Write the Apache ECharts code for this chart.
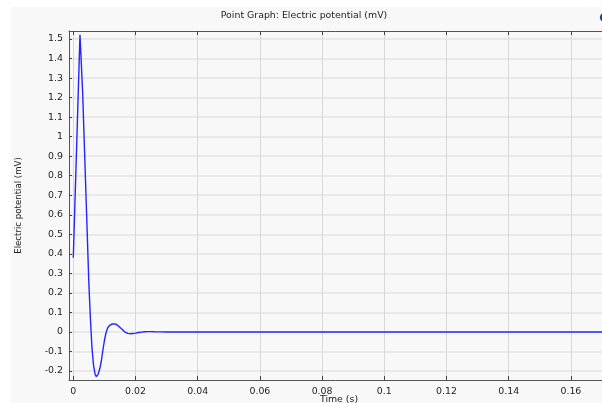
<!DOCTYPE html>
<html>
<head>
<meta charset="utf-8">
<script src="https://cdn.jsdelivr.net/npm/echarts@6/dist/echarts.min.js"></script>
<style>
html,body{margin:0;padding:0;background:#ffffff;}
#chart{width:602px;height:403px;}
</style>
</head>
<body>
<div id="chart"></div>
<script>
// ---- data (time in ms, potential in mV) ----
var timeMs = [0, 1, 2.15, 3, 4, 5, 5.5, 6, 6.5, 7, 7.4, 8, 8.5, 9, 9.5, 10, 10.5, 11, 11.5, 12, 12.5, 13,
  13.5, 14, 14.5, 15, 15.5, 16, 16.5, 17, 17.5, 18, 18.5, 19, 20, 21, 22, 23, 24, 25, 26, 28, 30,
  40, 60, 80, 100, 120, 140, 160, 180, 200];
var potential = [0.38, 0.91, 1.522, 1.23, 0.74, 0.25, 0.07, -0.08, -0.17, -0.215, -0.229, -0.216, -0.19, -0.15, -0.095, -0.045, -0.005, 0.018, 0.031, 0.038, 0.041, 0.042,
  0.041, 0.037, 0.031, 0.024, 0.016, 0.008, 0.001, -0.004, -0.007, -0.009, -0.0095, -0.009, -0.006, -0.003, -0.001, 0.001, 0.0015, 0.0015, 0.001, 0.0005, 0,
  0, 0, 0, 0, 0, 0, 0, 0, 0];
var xTicks = [0, 0.02, 0.04, 0.06, 0.08, 0.1, 0.12, 0.14, 0.16, 0.18];
var yTicks = [-0.2, -0.1, 0, 0.1, 0.2, 0.3, 0.4, 0.5, 0.6, 0.7, 0.8, 0.9, 1, 1.1, 1.2, 1.3, 1.4, 1.5];
var titleText = 'Point Graph: Electric potential (mV)';
var xName = 'Time (s)';
var yName = 'Electric potential (mV)';

var seriesData = timeMs.map(function (t, i) { return [t / 1000, potential[i]]; });
var FONT = 'DejaVu Sans';
var fmt = function (v) { return String(parseFloat(Number(v).toFixed(4))); };

var chart = echarts.init(document.getElementById('chart'), null, {renderer: 'canvas'});
chart.setOption({
  animation: false,
  backgroundColor: '#ffffff',
  textStyle: {fontFamily: FONT},
  graphic: [
    {type: 'rect', z: -10, silent: true, shape: {x: 11, y: 7, width: 600, height: 400}, style: {fill: '#f8f8f8'}},
    {type: 'text', x: 304, y: 11, style: {text: titleText, font: '9.4px "DejaVu Sans"', fill: '#222', align: 'center'}},
    {type: 'circle', shape: {cx: 604.5, cy: 17.5, r: 4.6}, style: {fill: '#1d3f94'}}
  ],
  grid: {left: 69, top: 31, right: -7, bottom: 23, containLabel: false, outerBoundsMode: 'none', show: false},
  xAxis: [{
    type: 'value', position: 'bottom',
    min: -0.00138, max: 0.17225,
    axisLine: {show: true, onZero: false, lineStyle: {color: '#555', width: 1}},
    axisTick: {show: true, inside: true, length: 4, customValues: xTicks, lineStyle: {color: '#444'}},
    axisLabel: {customValues: xTicks, formatter: fmt, color: '#222', fontSize: 9.4, fontFamily: FONT, margin: 7},
    splitLine: {show: true, lineStyle: {color: '#d8d8d8', width: 1}},
    name: xName, nameLocation: 'middle', nameGap: 15, nameMoveOverlap: false,
    nameTextStyle: {color: '#222', fontSize: 9.4, fontFamily: FONT}
  }, {
    type: 'value', position: 'top',
    min: -0.00138, max: 0.17225,
    axisLine: {show: true, onZero: false, lineStyle: {color: '#555', width: 1}},
    axisTick: {show: true, inside: true, length: 4, customValues: xTicks, lineStyle: {color: '#444'}},
    axisLabel: {show: false},
    splitLine: {show: false}
  }],
  yAxis: [{
    type: 'value', position: 'left',
    min: -0.246, max: 1.541,
    axisLine: {show: true, onZero: false, lineStyle: {color: '#555', width: 1}},
    axisTick: {show: true, inside: true, length: 3, customValues: yTicks, lineStyle: {color: '#444'}},
    axisLabel: {customValues: yTicks, formatter: fmt, color: '#222', fontSize: 9.4, fontFamily: FONT, margin: 6},
    splitLine: {show: true, lineStyle: {color: '#e4e4e4', width: 1.5}},
    name: yName, nameLocation: 'middle', nameRotate: 90, nameGap: 46, nameMoveOverlap: false,
    nameTextStyle: {color: '#222', fontSize: 8.6, fontFamily: FONT}
  }],
  series: [{
    type: 'line', xAxisIndex: 0, yAxisIndex: 0,
    data: seriesData, showSymbol: false, smooth: false, clip: true,
    lineStyle: {color: '#2424ff', width: 1.4}
  }]
});
</script>
</body>
</html>
